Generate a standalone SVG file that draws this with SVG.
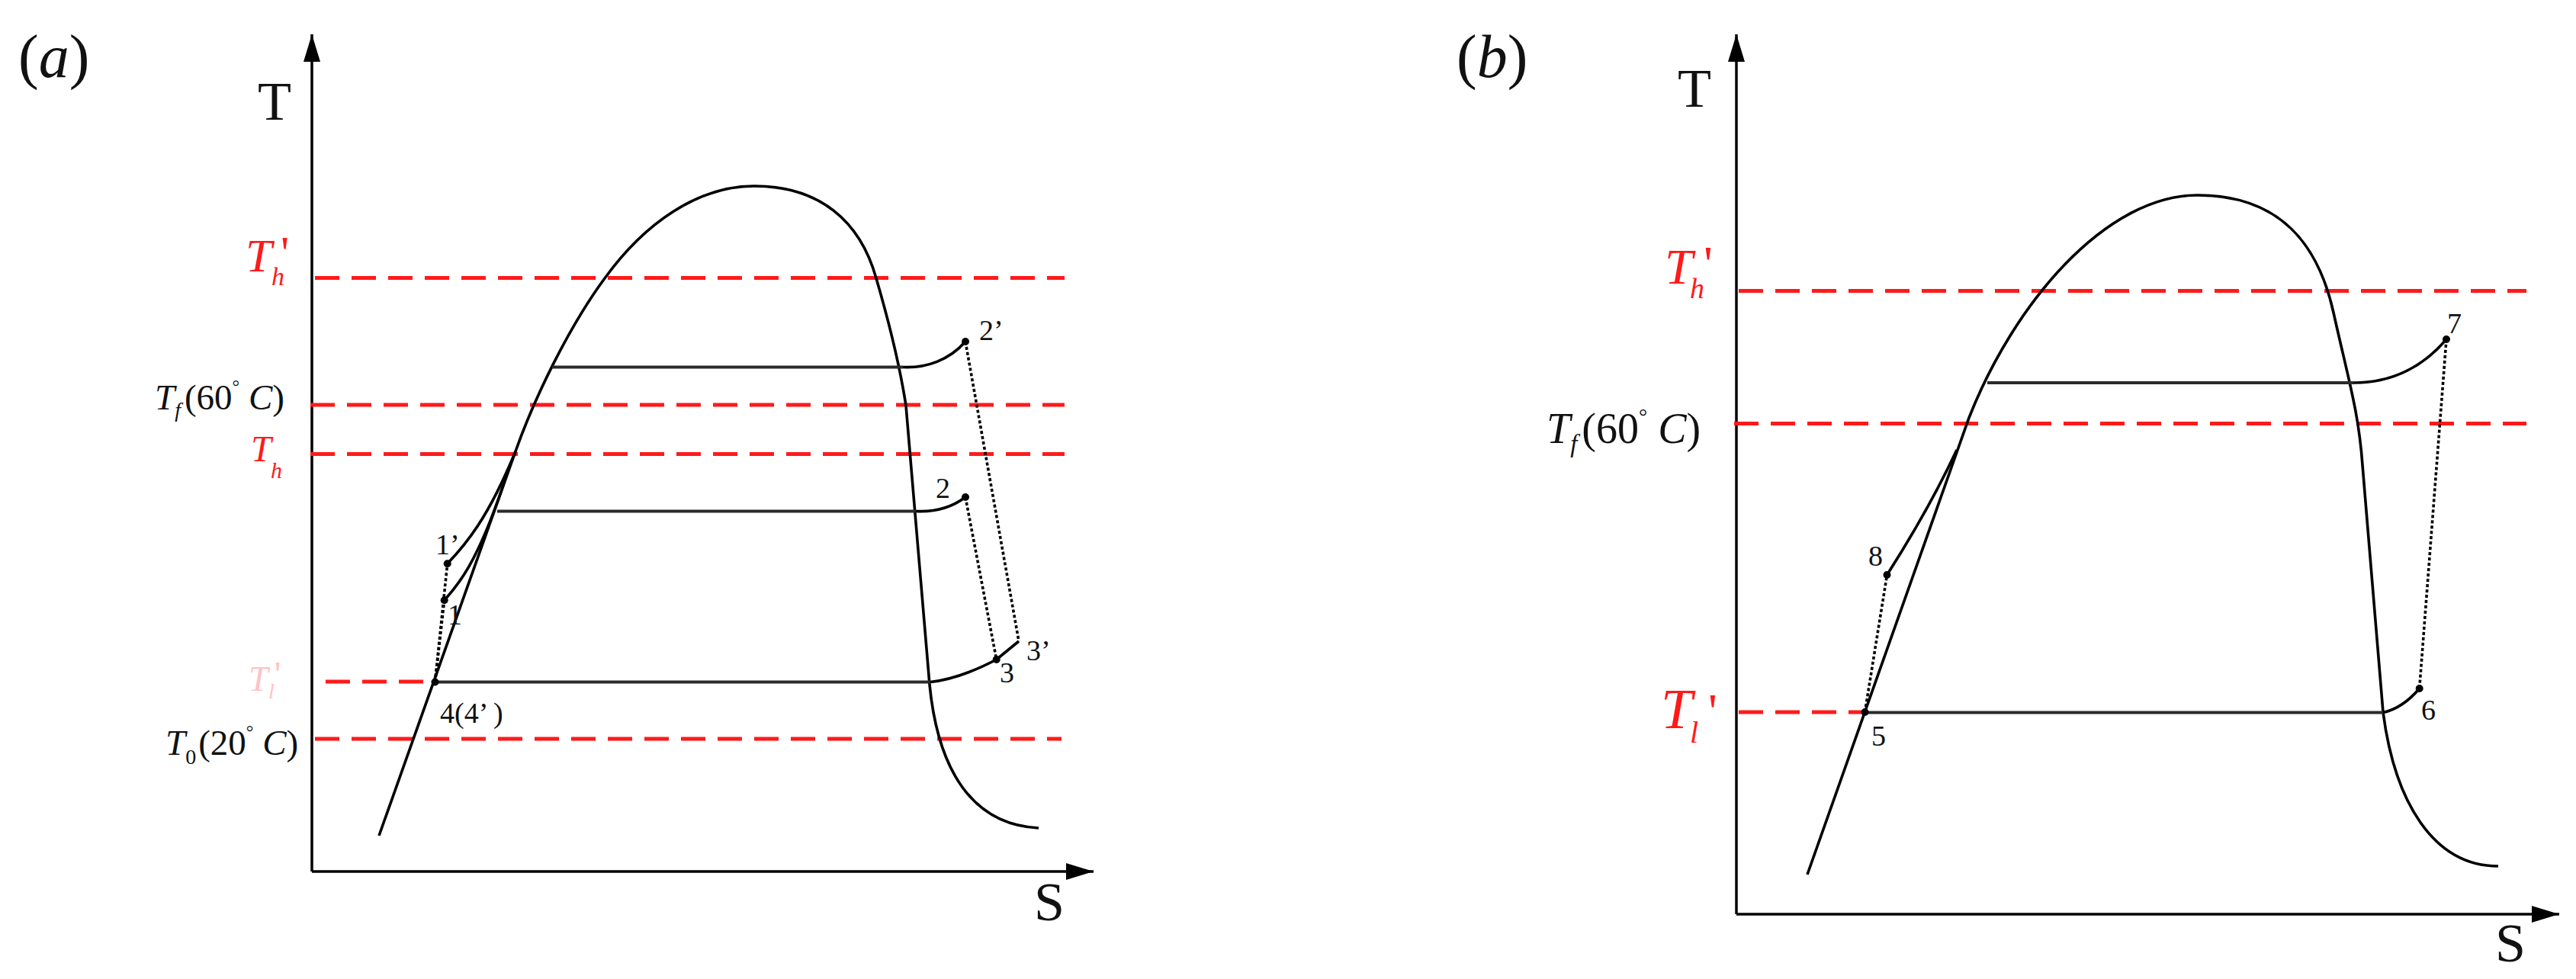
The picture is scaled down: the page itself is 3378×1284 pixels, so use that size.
<svg xmlns="http://www.w3.org/2000/svg" width="3378" height="1284" viewBox="0 0 3378 1284">
<defs>
<style>
.ax{stroke:#000;stroke-width:3.5;fill:none}
.cv{stroke:#000;stroke-width:3.6;fill:none}
.hl{stroke:#2a2a2a;stroke-width:3.8;fill:none}
.rd{stroke:#ff1a1a;stroke-width:5;stroke-dasharray:32 16;fill:none}
.dt{stroke:#000;stroke-width:3.6;stroke-dasharray:4 3;fill:none}
.pt{fill:#000}
text{font-family:"Liberation Serif","Times New Roman",serif;fill:#111}
.red{fill:#ff1a1a}
.faint{fill:#ff9a9a;opacity:0.6}
.it{font-style:italic}
.num{font-size:38px}
</style>
<marker id="ah" viewBox="0 0 36 22" refX="36" refY="11" markerWidth="36" markerHeight="22" markerUnits="userSpaceOnUse" orient="auto">
<path d="M0,0 L36,11 L0,22 Z" fill="#000"/>
</marker>
</defs>
<rect width="3378" height="1284" fill="#fff"/>

<!-- Panel (a) -->
<g id="panel-a">
<text x="24" y="101" font-size="80">(<tspan class="it">a</tspan>)</text>
<g id="a-axes">
<line class="ax" x1="409" y1="1143" x2="409" y2="45" marker-end="url(#ah)"/>
<line class="ax" x1="409" y1="1143" x2="1434" y2="1143" marker-end="url(#ah)"/>
<text x="338" y="157" font-size="72">T</text>
<text x="1356" y="1207" font-size="72">S</text>
</g>
<g id="a-levels">
<line class="rd" x1="413" y1="364.5" x2="1396" y2="364.5"/>
<line class="rd" x1="407" y1="531" x2="1396" y2="531"/>
<line class="rd" x1="407" y1="595.5" x2="1396" y2="595.5"/>
<line class="rd" x1="427" y1="894" x2="560" y2="894"/>
<line class="rd" x1="413" y1="969" x2="1392" y2="969"/>
<text class="red it" x="322" y="356" font-size="62">T</text>
<text class="red it" x="356" y="374" font-size="34">h</text>
<text class="red" x="368" y="352" font-size="62">'</text>
<text x="203" y="537" font-size="47"><tspan class="it">T</tspan><tspan class="it" font-size="28" dy="10">f</tspan><tspan dx="5" dy="-10">(60</tspan><tspan font-size="24" dy="-22">°</tspan><tspan class="it" dy="22"> C</tspan>)</text>
<text class="red it" x="329" y="605" font-size="48">T</text>
<text class="red it" x="355" y="627" font-size="30">h</text>
<text class="faint it" x="326" y="906" font-size="46">T</text>
<text class="faint it" x="352" y="916" font-size="28">l</text>
<text class="faint" x="360" y="900" font-size="46">'</text>
<text x="217" y="990" font-size="47"><tspan class="it">T</tspan><tspan font-size="28" dy="12">0</tspan><tspan dx="3" dy="-12">(20</tspan><tspan font-size="24" dy="-22">°</tspan><tspan class="it" dy="22"> C</tspan>)</text>
</g>
<g id="a-dome">
<path class="cv" d="M497,1096 L676,592 C700,524 745,430 793,365 C845,293 915,244 989,244 C1075,244 1128,290 1149,365 C1168,430 1180,480 1188,532 L1219,898 C1230,1010 1275,1082 1362,1086"/>
</g>
<g id="a-cycle">
<path class="hl" d="M724,481.5 L1184,481.5"/>
<path class="cv" d="M1184,481.5 C1215,483 1245,472 1266,448"/>
<path class="hl" d="M652,670.5 L1201,670.5"/>
<path class="cv" d="M1201,670.5 C1230,672 1250,664 1266,652"/>
<path class="hl" d="M570.5,894.5 L1220,894.5"/>
<path class="cv" d="M1220,894.5 C1250,891 1282,878 1306.7,865 L1336,841"/>
<path class="cv" d="M586.7,739.3 C610,715 640,680 676,592"/>
<path class="cv" d="M582.7,787.3 C600,768 625,740 660,636"/>
<path class="dt" d="M1266,448 L1336,841"/>
<path class="dt" d="M1266,652 L1306.7,865"/>
<path class="dt" d="M570.5,894.5 L586.7,739.3"/>
<path class="dt" d="M570.5,894.5 L582.7,787.3"/>
<circle class="pt" cx="1266" cy="448" r="5"/>
<circle class="pt" cx="1266" cy="652" r="5"/>
<circle class="pt" cx="1306.7" cy="865" r="5"/>
<circle class="pt" cx="586.7" cy="739.3" r="5"/>
<circle class="pt" cx="582.7" cy="787.3" r="5"/>
<circle class="pt" cx="570.5" cy="894.5" r="5"/>
<text class="num" x="1284" y="446">2’</text>
<text class="num" x="1227" y="653">2</text>
<text class="num" x="1346" y="866">3’</text>
<text class="num" x="1311" y="895">3</text>
<text class="num" x="571" y="727">1’</text>
<text class="num" x="587" y="819" font-size="32">1</text>
<text class="num" x="577" y="948">4(4’ )</text>
</g>
</g>

<!-- Panel (b) -->
<g id="panel-b">
<text x="1910" y="101" font-size="80">(<tspan class="it">b</tspan>)</text>
<g id="b-axes">
<line class="ax" x1="2277" y1="1199" x2="2277" y2="45" marker-end="url(#ah)"/>
<line class="ax" x1="2277" y1="1199" x2="3356" y2="1199" marker-end="url(#ah)"/>
<text x="2200" y="140" font-size="72">T</text>
<text x="3272" y="1261" font-size="72">S</text>
</g>
<g id="b-levels">
<line class="rd" x1="2280" y1="381.5" x2="3313" y2="381.5"/>
<line class="rd" x1="2274" y1="555.5" x2="3313" y2="555.5"/>
<line class="rd" x1="2280" y1="934" x2="2441" y2="934"/>
<text class="red it" x="2183" y="372" font-size="66">T</text>
<text class="red it" x="2216" y="391" font-size="38">h</text>
<text class="red" x="2234" y="368" font-size="66">'</text>
<text x="2028" y="581" font-size="56"><tspan class="it">T</tspan><tspan class="it" font-size="33" dy="12">f</tspan><tspan dx="6" dy="-12">(60</tspan><tspan font-size="28" dy="-26">°</tspan><tspan class="it" dy="26"> C</tspan>)</text>
<text class="red it" x="2178" y="955" font-size="74">T</text>
<text class="red it" x="2216" y="974" font-size="40">l</text>
<text class="red" x="2240" y="955" font-size="66">'</text>
</g>
<g id="b-dome">
<path class="cv" d="M2370,1147 L2582,548 C2640,400 2760,256 2882,256 C2990,256 3040,320 3060,410 C3080,500 3093,540 3098,610 L3125,934 C3140,1050 3190,1136 3276,1136"/>
</g>
<g id="b-cycle">
<path class="hl" d="M2606,502 L3087,502"/>
<path class="cv" d="M3087,502 C3140,502 3180,478 3208,445"/>
<path class="hl" d="M2445.5,934.5 L3125,934.5"/>
<path class="cv" d="M3125,934.5 C3145,930 3160,918 3172.7,903"/>
<path class="cv" d="M2474.5,754 C2505,706 2538,650 2566,590"/>
<path class="dt" d="M3208,445 L3172.7,903"/>
<path class="dt" d="M2445.5,934 L2474.5,754"/>
<circle class="pt" cx="3208" cy="445" r="5"/>
<circle class="pt" cx="3172.7" cy="903" r="5"/>
<circle class="pt" cx="2474.5" cy="754" r="5"/>
<circle class="pt" cx="2445.5" cy="934" r="5"/>
<text class="num" x="3209" y="437">7</text>
<text class="num" x="3175" y="944">6</text>
<text class="num" x="2450" y="742">8</text>
<text class="num" x="2454" y="978">5</text>
</g>
</g>
</svg>
